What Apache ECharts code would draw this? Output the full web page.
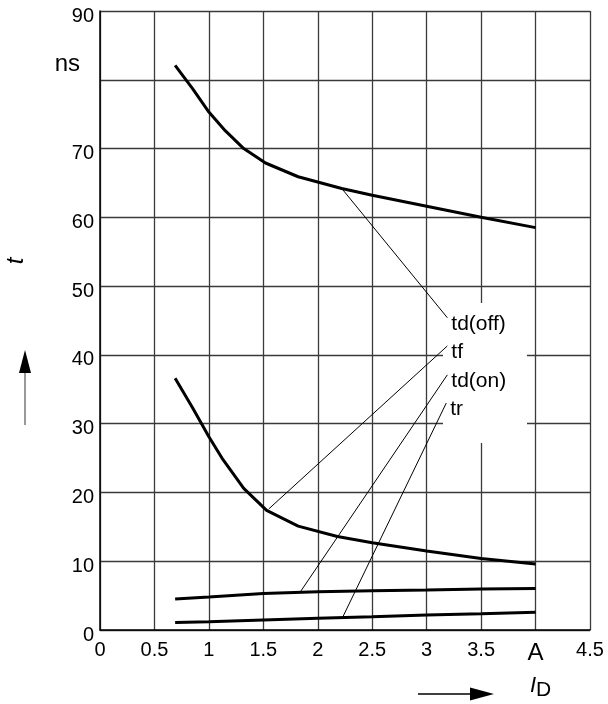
<!DOCTYPE html>
<html>
<head>
<meta charset="utf-8">
<script src="https://cdn.jsdelivr.net/npm/echarts@6/dist/echarts.min.js"></script>
<style>
html,body{margin:0;padding:0;background:#fff;}
#chart{width:608px;height:704px;}
</style>
</head>
<body>
<div id="chart"></div>
<script>
// Tick labels
const xTickValues = [0, 0.5, 1, 1.5, 2, 2.5, 3, 3.5, 4, 4.5];
const xTickLabels = ['0', '0.5', '1', '1.5', '2', '2.5', '3', '3.5', 'A', '4.5'];
const yTickValues = [0, 10, 20, 30, 40, 50, 60, 70, 80, 90];
const yTickLabels = ['0', '10', '20', '30', '40', '50', '60', '70', 'ns', '90'];

// Curves: [I_D (A), t (ns)]
const tdOff = [[0.69, 82.1], [0.85, 78.7], [1.0, 75.3], [1.15, 72.6], [1.32, 70.0], [1.52, 67.9], [1.82, 65.9], [2.22, 64.2], [2.5, 63.2], [3.0, 61.6], [3.5, 60.0], [4.0, 58.5]];
const tf = [[0.69, 36.6], [0.85, 32.3], [1.0, 28.1], [1.12, 25.0], [1.32, 20.6], [1.53, 17.4], [1.82, 15.1], [2.18, 13.6], [2.5, 12.7], [3.0, 11.5], [3.5, 10.4], [4.0, 9.6]];
const tdOn = [[0.69, 4.5], [1.0, 4.8], [1.5, 5.3], [2.0, 5.55], [2.5, 5.7], [3.0, 5.8], [3.5, 5.95], [4.0, 6.05]];
const tr = [[0.69, 1.1], [1.0, 1.2], [1.5, 1.45], [2.0, 1.7], [2.5, 1.93], [3.0, 2.18], [3.5, 2.37], [4.0, 2.57]];

// Leader lines to the curve labels
const leaderLabels = ['td(off)', 'tf', 'td(on)', 'tr'];
const leaderStart = [[2.22, 64.2], [1.55, 17.6], [1.84, 5.55], [2.23, 1.9]];
const leaderEnd = [[3.19, 45.4], [3.19, 41.3], [3.19, 37.1], [3.18, 33.0]];

const FONT = '"Liberation Sans", Arial, Helvetica, sans-serif';
const chart = echarts.init(document.getElementById('chart'));

function tickLabel(values, labels) {
  return function (v) {
    for (let i = 0; i < values.length; i++) {
      if (Math.abs(values[i] - v) < 1e-9) {
        const s = labels[i];
        if (/^[0-9.]+$/.test(s)) return s;
        return '{big|' + s + '}';
      }
    }
    return '';
  };
}

const curveSeries = [tdOff, tf, tdOn, tr].map(function (d) {
  return {
    type: 'line', data: d, showSymbol: false, symbol: 'none', smooth: false,
    lineStyle: { color: '#000', width: 3 }, z: 4, silent: true
  };
});

const leaderSeries = leaderLabels.map(function (name, i) {
  return {
    type: 'line', name: name, data: [leaderStart[i], leaderEnd[i]],
    showSymbol: false, symbol: 'none',
    lineStyle: { color: '#000', width: 1 }, z: 3, silent: true,
    endLabel: {
      show: true, formatter: name, color: '#000', fontSize: 21, fontFamily: FONT,
      distance: 4, offset: [0, 6]
    }
  };
});

chart.setOption({
  animation: false,
  backgroundColor: '#fff',
  grid: { left: 100, right: 18, top: 11, bottom: 74, containLabel: false },
  xAxis: {
    type: 'value', min: 0, max: 4.5, interval: 0.5,
    axisLine: { show: true, onZero: false, lineStyle: { color: '#000', width: 1.5 } },
    axisTick: { show: false },
    splitLine: { show: true, lineStyle: { color: '#3a3a3a', width: 1.3 } },
    axisLabel: {
      formatter: tickLabel(xTickValues, xTickLabels), color: '#000', fontSize: 20, fontFamily: FONT,
      margin: 10, showMinLabel: true, showMaxLabel: true,
      rich: { big: { fontSize: 24, fontFamily: FONT, color: '#000', padding: [1, 0, 0, 0] } }
    }
  },
  yAxis: {
    type: 'value', min: 0, max: 90, interval: 10,
    axisLine: { show: true, onZero: false, lineStyle: { color: '#000', width: 1.5 } },
    axisTick: { show: false },
    splitLine: { show: true, lineStyle: { color: '#3a3a3a', width: 1.3 } },
    axisLabel: {
      formatter: tickLabel(yTickValues, yTickLabels), color: '#000', fontSize: 20, fontFamily: FONT,
      margin: 6, padding: [10, 0, 0, 0], showMinLabel: true, showMaxLabel: true,
      rich: { big: { fontSize: 24, fontFamily: FONT, color: '#000', padding: [0, 14, 40, 0] } }
    }
  },
  graphic: {
    elements: [
      { type: 'rect', z: 1, shape: { x: 443, y: 303, width: 84, height: 140 }, style: { fill: '#fff' }, silent: true },
      // y-axis title and arrow
      { type: 'text', x: 16, y: 261, rotation: Math.PI / 2,
        style: { text: 't', fontSize: 24, fontStyle: 'italic', fontFamily: FONT, fill: '#000', align: 'center', verticalAlign: 'middle' } },
      { type: 'line', shape: { x1: 25, y1: 425, x2: 25, y2: 372 }, style: { stroke: '#777', lineWidth: 1.5 } },
      { type: 'polygon', shape: { points: [[19, 373], [25, 350], [31, 373]] }, style: { fill: '#000' } },
      // x-axis title and arrow
      { type: 'text', x: 530, y: 670,
        style: { text: '{i|I}{d|D}', fontFamily: FONT, fill: '#000',
          rich: {
            i: { fontSize: 22, fontStyle: 'italic', fontFamily: FONT, fill: '#000', color: '#000' },
            d: { fontSize: 21, fontFamily: FONT, fill: '#000', color: '#000', padding: [10, 0, 0, 0] }
          } } },
      { type: 'line', shape: { x1: 418, y1: 694, x2: 474, y2: 694 }, style: { stroke: '#000', lineWidth: 1.5 } },
      { type: 'polygon', shape: { points: [[470, 687.5], [494, 694], [470, 700.5]] }, style: { fill: '#000' } }
    ]
  },
  series: curveSeries.concat(leaderSeries)
});
</script>
</body>
</html>
